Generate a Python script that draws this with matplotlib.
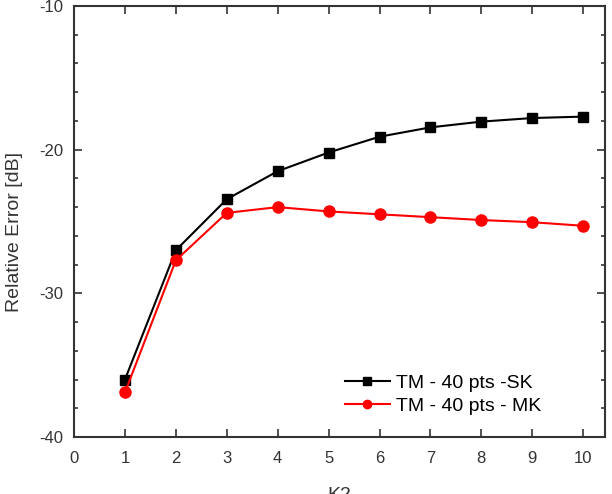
import matplotlib
matplotlib.use("Agg")
import matplotlib.pyplot as plt
from matplotlib.ticker import MultipleLocator

plt.rcParams['font.family'] = ['Liberation Sans', 'DejaVu Sans']
plt.rcParams['axes.unicode_minus'] = False

# data
k2 = [1, 2, 3, 4, 5, 6, 7, 8, 9, 10]
err_sk = [-36.0, -27.0, -23.45, -21.5, -20.2, -19.1, -18.45, -18.05, -17.8, -17.7]
err_mk = [-36.9, -27.7, -24.4, -24.0, -24.3, -24.5, -24.7, -24.9, -25.05, -25.3]

fig = plt.figure(figsize=(6.12, 4.94), dpi=100)
ax = fig.add_axes([0.121, 0.1154, 0.8676, 0.8725])

ax.plot(k2, err_sk, color='black', marker='s', markersize=7, linewidth=1.5,
        label='TM - 40 pts -SK')
ax.plot(k2, err_mk, color='red', marker='o', markersize=8, linewidth=1.5,
        label='TM - 40 pts - MK')

ax.set_xlim(0, 10.43)
ax.set_ylim(-40, -10)
ax.xaxis.set_major_locator(MultipleLocator(1))
ax.yaxis.set_major_locator(MultipleLocator(10))
ax.yaxis.set_minor_locator(MultipleLocator(2))

ax.tick_params(which='both', direction='in', top=True, right=True,
               labelsize=12, colors='#333333', width=1.2)
ax.tick_params(which='major', length=6)
ax.tick_params(which='minor', length=3)
ax.tick_params(axis='x', pad=10)
ax.tick_params(axis='y', pad=8)
for s in ax.spines.values():
    s.set_linewidth(1.5)
    s.set_color('#333333')

ax.set_ylabel('Relative Error [dB]', fontsize=14, color='#333333')
ax.yaxis.set_label_coords(-0.097, 0.476)
# the x label sits partly below the bottom edge, as in the original
ax.set_xlabel('K2', fontsize=14, color='#333333', labelpad=15)

ax.legend(loc='lower left', bbox_to_anchor=(0.51, 0.052), frameon=False,
          fontsize=14, handlelength=2.3, labelspacing=0.25, handletextpad=0.35,
          borderpad=0, borderaxespad=0, markerscale=0.75)

fig.savefig('out.png', dpi=100)
